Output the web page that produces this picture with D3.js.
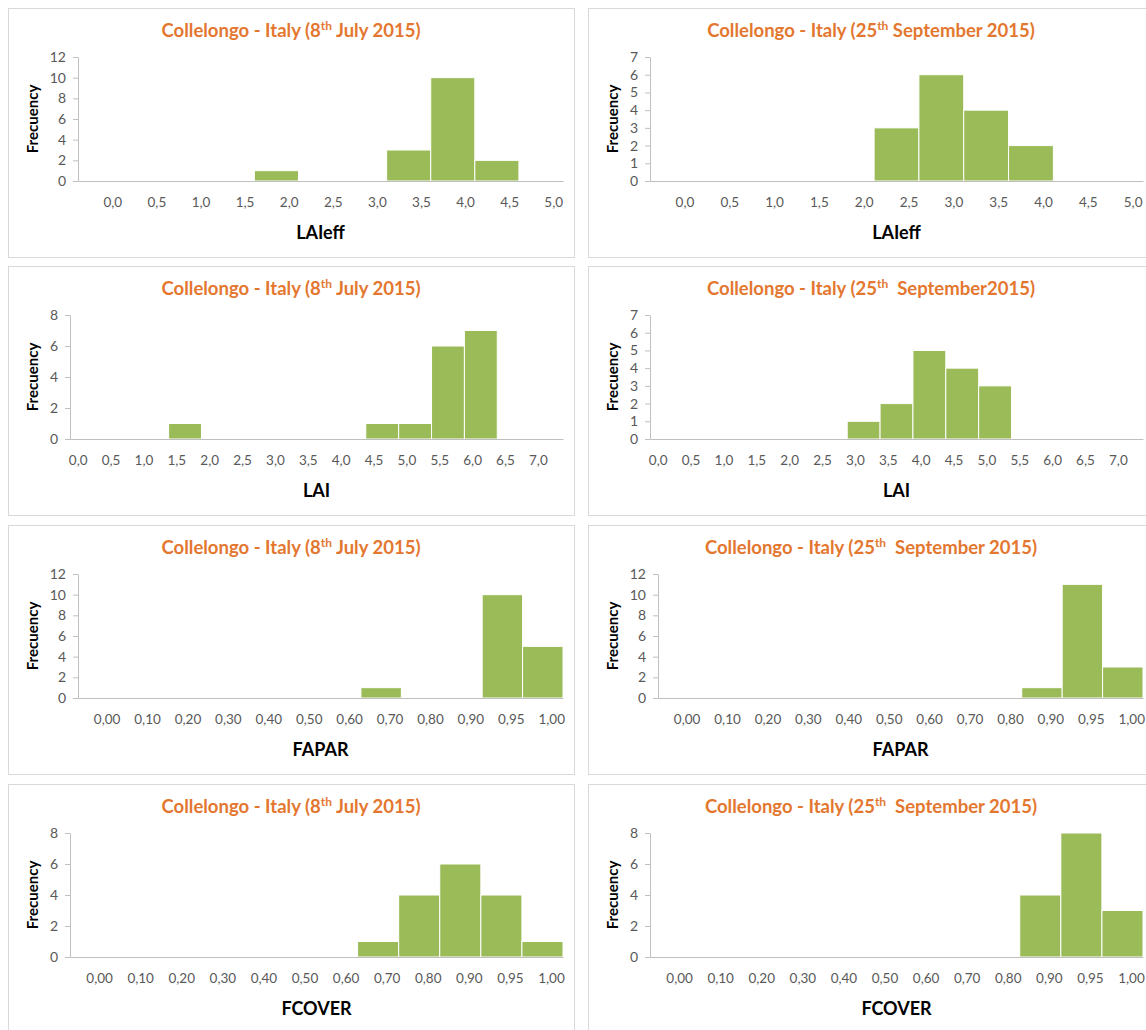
<!DOCTYPE html>
<html>
<head>
<meta charset="utf-8">
<script src="https://cdn.jsdelivr.net/npm/d3@7"></script>
<style>
	body { margin: 0; background: #fff; }
	text { font-family: Lato, "Noto Sans", sans-serif; }
</style>
</head>
<body>
<script>
// bin labels
var laiEffBins = ["0,0", "0,5", "1,0", "1,5", "2,0", "2,5", "3,0", "3,5", "4,0", "4,5", "5,0"];
var laiBins = ["0,0", "0,5", "1,0", "1,5", "2,0", "2,5", "3,0", "3,5", "4,0", "4,5", "5,0", "5,5", "6,0", "6,5", "7,0"];
var fractionBins = ["0,00", "0,10", "0,20", "0,30", "0,40", "0,50", "0,60", "0,70", "0,80", "0,90", "0,95", "1,00"];

// frequencies per bin
var laiEffJuly = [0, 0, 0, 0, 1, 0, 0, 3, 10, 2, 0];
var laiEffSept = [0, 0, 0, 0, 0, 3, 6, 4, 2, 0, 0];
var laiJuly = [0, 0, 0, 1, 0, 0, 0, 0, 0, 1, 1, 6, 7, 0, 0];
var laiSept = [0, 0, 0, 0, 0, 0, 1, 2, 5, 4, 3, 0, 0, 0, 0];
var faparJuly = [0, 0, 0, 0, 0, 0, 0, 1, 0, 0, 10, 5];
var faparSept = [0, 0, 0, 0, 0, 0, 0, 0, 0, 1, 11, 3];
var fcoverJuly = [0, 0, 0, 0, 0, 0, 0, 1, 4, 6, 4, 1];
var fcoverSept = [0, 0, 0, 0, 0, 0, 0, 0, 0, 4, 8, 3];

// y axis ticks
var ticksTo12 = [0, 2, 4, 6, 8, 10, 12];
var ticksTo8 = [0, 2, 4, 6, 8];
var ticksTo7 = [0, 1, 2, 3, 4, 5, 6, 7];

// title pieces: day, suffix, rest
var titleJuly = ["8", "th", " July 2015)"];
var titleSept = ["25", "th", " September 2015)"];
var titleSept2 = ["25", "th", "  September2015)"];
var titleSept3 = ["25", "th", "  September 2015)"];

var xTitles = ["LAIeff", "LAI", "FAPAR", "FCOVER"];

var width = 1146,
	height = 1030,
	boxW = 566,
	boxH = 249,
	colX = [8, 588],
	rowY = [8, 266, 525, 784],
	green = "#9bbb59",
	orange = "#e4772f",
	axisGrey = "#bfbfbf",
	textGrey = "#595959";

var panels = [
	{ row: 0, col: 0, bins: laiEffBins, values: laiEffJuly, ticks: ticksTo12, title: titleJuly, xTitle: xTitles[0], labelPos: 0.79 },
	{ row: 0, col: 1, bins: laiEffBins, values: laiEffSept, ticks: ticksTo7, title: titleSept, xTitle: xTitles[0], labelPos: 0.78 },
	{ row: 1, col: 0, bins: laiBins, values: laiJuly, ticks: ticksTo8, title: titleJuly, xTitle: xTitles[1], labelPos: 0.25 },
	{ row: 1, col: 1, bins: laiBins, values: laiSept, ticks: ticksTo7, title: titleSept2, xTitle: xTitles[1], labelPos: 0.25 },
	{ row: 2, col: 0, bins: fractionBins, values: faparJuly, ticks: ticksTo12, title: titleJuly, xTitle: xTitles[2], labelPos: 0.72 },
	{ row: 2, col: 1, bins: fractionBins, values: faparSept, ticks: ticksTo12, title: titleSept3, xTitle: xTitles[2], labelPos: 0.72 },
	{ row: 3, col: 0, bins: fractionBins, values: fcoverJuly, ticks: ticksTo8, title: titleJuly, xTitle: xTitles[3], labelPos: 0.72 },
	{ row: 3, col: 1, bins: fractionBins, values: fcoverSept, ticks: ticksTo8, title: titleSept3, xTitle: xTitles[3], labelPos: 0.72 }
];

var svg = d3.select("body")
	.append("svg")
	.attr("width", width)
	.attr("height", height);

panels.forEach(function(p) {
	var g = svg.append("g")
		.attr("transform", "translate(" + colX[p.col] + "," + rowY[p.row] + ")");
	drawPanel(g, p);
});

function drawPanel(g, p) {
	var yMax = d3.max(p.ticks);
	var left = yMax >= 10 ? 70 : 62,
		right = 555,
		top = 49,
		bottom = 173;

	var x = d3.scaleBand()
		.domain(p.bins)
		.range([left, right])
		.padding(0);

	var y = d3.scaleLinear()
		.domain([0, yMax])
		.range([bottom, top]);

	// frame
	g.append("rect")
		.attr("x", 0.5)
		.attr("y", 0.5)
		.attr("width", boxW)
		.attr("height", boxH)
		.attr("fill", "#fff")
		.attr("stroke", "#d9d9d9");

	// title with superscript
	var title = g.append("text")
		.attr("x", boxW / 2)
		.attr("y", 29)
		.attr("text-anchor", "middle")
		.attr("fill", orange)
		.attr("font-size", 18.5)
		.attr("font-weight", "bold")
		.style("white-space", "pre");
	title.append("tspan").text("Collelongo - Italy (" + p.title[0]);
	title.append("tspan").attr("dy", -7).attr("font-size", 12).text(p.title[1]);
	title.append("tspan").attr("dy", 7).text(p.title[2]);

	// bars
	g.append("g")
		.selectAll("rect")
		.data(p.values.map(function(v, i) { return { bin: p.bins[i], value: v }; }))
		.enter().append("rect")
		.filter(function(d) { return d.value > 0; })
		.attr("x", function(d) { return x(d.bin); })
		.attr("y", function(d) { return y(d.value); })
		.attr("width", x.bandwidth())
		.attr("height", function(d) { return bottom - y(d.value); })
		.attr("fill", green)
		.attr("stroke", "#fff")
		.attr("stroke-width", 1);

	// y axis
	var yAxis = g.append("g")
		.attr("transform", "translate(" + left + ",0)")
		.call(d3.axisLeft(y)
			.tickValues(p.ticks)
			.tickFormat(d3.format("d"))
			.tickSizeInner(5)
			.tickSizeOuter(0)
			.tickPadding(7));
	yAxis.selectAll("line, path").attr("stroke", axisGrey);
	yAxis.selectAll("text")
		.attr("fill", textGrey)
		.attr("font-size", 14)
		.style("font-family", "Lato, sans-serif");

	// x axis, labels shifted like the original
	var xAxis = g.append("g")
		.attr("transform", "translate(0," + bottom + ")")
		.call(d3.axisBottom(x)
			.tickSize(0)
			.tickPadding(16));
	xAxis.select(".domain").attr("stroke", axisGrey);
	xAxis.selectAll("text")
		.attr("dx", x.bandwidth() * (p.labelPos - 0.5))
		.attr("fill", textGrey)
		.attr("font-size", 13.5)
		.style("font-family", "Lato, sans-serif");

	// axis titles
	g.append("text")
		.attr("x", (left + right) / 2)
		.attr("y", bottom + 58)
		.attr("text-anchor", "middle")
		.attr("font-size", 18)
		.attr("font-weight", "bold")
		.attr("fill", "#000")
		.text(p.xTitle);

	g.append("text")
		.attr("transform", "translate(30," + (top + bottom) / 2 + ") rotate(-90)")
		.attr("text-anchor", "middle")
		.attr("font-size", 15)
		.attr("font-weight", "bold")
		.attr("fill", "#000")
		.text("Frecuency");
}
</script>
</body>
</html>
